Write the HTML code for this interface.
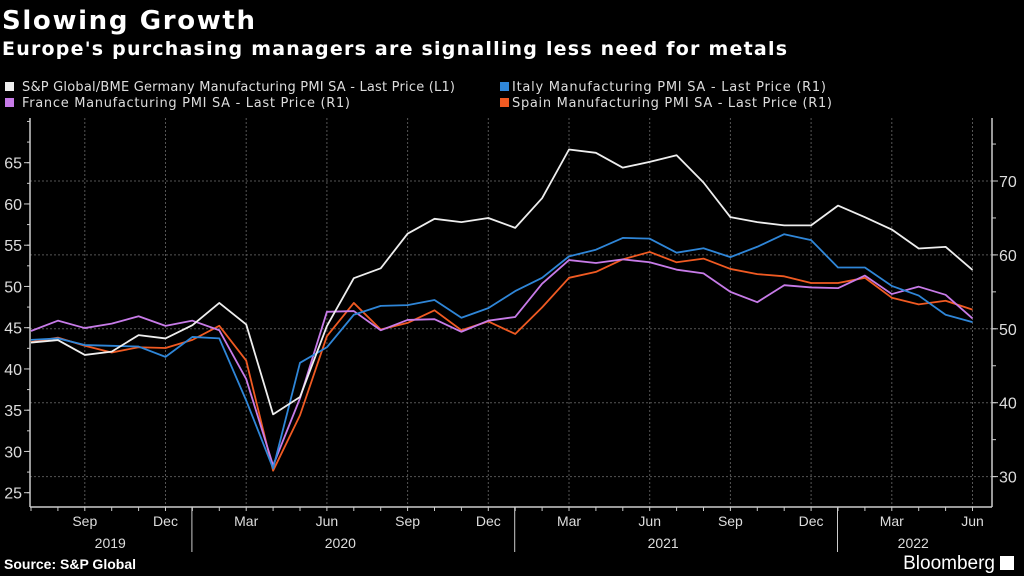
<!DOCTYPE html>
<html><head><meta charset="utf-8"><style>
body{margin:0;background:#000;width:1024px;height:576px;overflow:hidden;font-family:"Liberation Sans",sans-serif;color:#fff}
svg{position:absolute;left:0;top:0}
.dv{font-family:"DejaVu Sans",sans-serif}
</style></head><body>
<svg width="1024" height="576">
<text class="dv" x="2" y="29" font-size="26" font-weight="bold" fill="#fff" textLength="253" lengthAdjust="spacing">Slowing Growth</text>
<text class="dv" x="2" y="55" font-size="19" font-weight="bold" fill="#fff" textLength="785" lengthAdjust="spacing">Europe's purchasing managers are signalling less need for metals</text>
<g class="dv" font-size="13" fill="#ddd">
<rect x="5" y="82" width="9" height="9" fill="#eee"/><text x="22" y="91" textLength="433" lengthAdjust="spacing">S&amp;P Global/BME Germany Manufacturing PMI SA - Last Price (L1)</text>
<rect x="500" y="82" width="9" height="9" fill="#2f86d8"/><text x="512" y="91" textLength="314" lengthAdjust="spacing">Italy Manufacturing PMI SA - Last Price (R1)</text>
<rect x="5" y="98" width="9" height="9" fill="#c77be8"/><text x="22" y="107" textLength="328" lengthAdjust="spacing">France Manufacturing PMI SA - Last Price (R1)</text>
<rect x="500" y="98" width="9" height="9" fill="#f05a22"/><text x="512" y="107" textLength="320" lengthAdjust="spacing">Spain Manufacturing PMI SA - Last Price (R1)</text>
</g>
<g id="grid"></g><g id="axes"></g><g id="lines"></g>
<text x="4" y="569" font-size="14" font-weight="bold" fill="#fff">Source: S&amp;P Global</text>
<text x="995" y="569" font-size="19" fill="#fff" text-anchor="end">Bloomberg</text>
<rect x="1000" y="556" width="14" height="14" fill="#fff"/>
</svg>
<script>
const germany=[43.2,43.5,41.7,42.1,44.1,43.7,45.3,48.0,45.4,34.5,36.6,45.2,51.0,52.2,56.4,58.2,57.8,58.3,57.1,60.7,66.6,66.2,64.4,65.1,65.9,62.6,58.4,57.8,57.4,57.4,59.8,58.4,56.9,54.6,54.8,52.0];
const italy=[48.5,48.7,47.8,47.7,47.6,46.2,48.9,48.7,40.3,31.1,45.4,47.5,51.9,53.1,53.2,53.9,51.5,52.8,55.1,56.9,59.8,60.7,62.3,62.2,60.3,60.9,59.7,61.1,62.8,62.0,58.3,58.3,55.8,54.5,51.9,50.9];
const france=[49.7,51.1,50.1,50.7,51.7,50.4,51.1,49.8,43.2,31.5,40.6,52.3,52.4,49.8,51.2,51.3,49.6,51.1,51.6,56.1,59.3,58.9,59.4,59.0,58.0,57.5,55.0,53.6,55.9,55.6,55.5,57.2,54.7,55.7,54.6,51.4];
const spain=[48.2,48.8,47.7,46.8,47.5,47.4,48.5,50.4,45.7,30.8,38.3,49.0,53.5,49.9,50.8,52.5,49.8,51.0,49.3,52.9,56.9,57.7,59.4,60.4,59.0,59.5,58.1,57.4,57.1,56.2,56.2,56.9,54.2,53.3,53.8,52.6];
const leftTicks=[25,30,35,40,45,50,55,60,65];
const rightTicks=[30,40,50,60,70];
const monthLabels=["Sep","Dec","Mar","Jun","Sep","Dec","Mar","Jun","Sep","Dec","Mar","Jun"];
const yearLabels=["2019","2020","2021","2022"];
const NS="http://www.w3.org/2000/svg";
const X0=31,DX=26.9,AX=30,AR=992,TOP=118,BOT=507;
const xm=i=>X0+DX*i;
const yl=v=>162.7+(65-v)*8.25;
const yr=v=>181+(70-v)*7.39;
function mk(p,t,a){const e=document.createElementNS(NS,t);for(const k in a)e.setAttribute(k,a[k]);p.appendChild(e);return e;}
const grid=document.getElementById('grid'),axes=document.getElementById('axes'),lines=document.getElementById('lines');
rightTicks.forEach(v=>{const l=mk(grid,'line',{x1:AX,x2:AR,y1:yr(v),y2:yr(v),stroke:'#555','stroke-dasharray':'2,2'});

});
for(let q=0;q<12;q++){const x=xm(2+3*q);const l=mk(grid,'line',{x1:x,x2:x,y1:TOP,y2:BOT,stroke:'#555','stroke-dasharray':'2,2'});


const t=mk(axes,'text',{x:x,y:526,'font-size':14,fill:'#ddd','text-anchor':'middle'});t.textContent=monthLabels[q];

}
mk(axes,'line',{x1:AX,x2:AX,y1:TOP,y2:BOT,stroke:'#ccc','stroke-width':1.5});
mk(axes,'line',{x1:AR,x2:AR,y1:TOP,y2:BOT,stroke:'#ccc','stroke-width':1.5});
mk(axes,'line',{x1:AX,x2:AR,y1:BOT,y2:BOT,stroke:'#ccc','stroke-width':1.5});
for(let i=0;i<36;i++){mk(axes,'line',{x1:xm(i),x2:xm(i),y1:BOT,y2:BOT+4,stroke:'#ccc'});}
[6,18,30].forEach(i=>{mk(axes,'line',{x1:xm(i)-0.5,x2:xm(i)-0.5,y1:BOT,y2:552,stroke:'#ccc'});});
const yc=[(xm(0)+xm(5))/2+12,(xm(6)+xm(17))/2,(xm(18)+xm(29))/2,(xm(30)+xm(35))/2+8];
yearLabels.forEach((s,i)=>{const t=mk(axes,'text',{x:yc[i],y:548,'font-size':14,fill:'#ddd','text-anchor':'middle'});t.textContent=s;

});
for(let v=25;v<=70;v+=2.5){mk(axes,'line',{x1:AX-3,x2:AX,y1:yl(v),y2:yl(v),stroke:'#ccc'});}
leftTicks.forEach(v=>{mk(axes,'line',{x1:AX-6,x2:AX,y1:yl(v),y2:yl(v),stroke:'#ccc'});
const t=mk(axes,'text',{x:AX-8,y:yl(v)+6,'font-size':16,fill:'#ddd','text-anchor':'end'});t.textContent=v;

});
for(let v=30;v<=75;v+=5){mk(axes,'line',{x1:AR,x2:AR+4,y1:yr(v),y2:yr(v),stroke:'#ccc'});}
rightTicks.forEach(v=>{mk(axes,'line',{x1:AR,x2:AR+6,y1:yr(v),y2:yr(v),stroke:'#ccc'});
const t=mk(axes,'text',{x:AR+7,y:yr(v)+6,'font-size':16,fill:'#ddd'});t.textContent=v;

});
function series(arr,f,c,name){const p=mk(lines,'polyline',{points:arr.map((v,i)=>xm(i)+','+f(v)).join(' '),fill:'none',stroke:c,'stroke-width':1.8,'stroke-linejoin':'round'});

}
series(spain,yr,'#f05a22','spain-line');
series(france,yr,'#c77be8','france-line');
series(italy,yr,'#2f86d8','italy-line');
series(germany,yl,'#eeeeee','germany-line');
</script>
</body></html>
